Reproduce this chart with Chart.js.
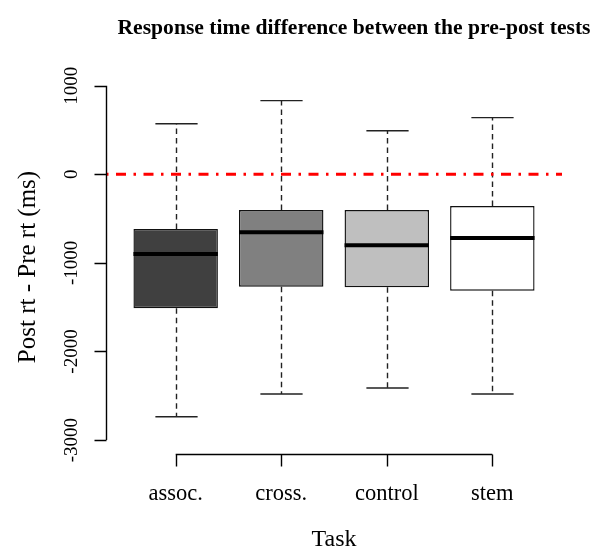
<!DOCTYPE html>
<html>
<head>
<meta charset="utf-8">
<script src="https://cdn.jsdelivr.net/npm/chart.js@4.4.1/dist/chart.umd.min.js"></script>
<style>
  html, body { margin: 0; padding: 0; background: #fff; }
  #wrap { width: 592px; height: 548px; }
</style>
</head>
<body>
<div id="wrap"><canvas id="rtChart" width="592" height="548"></canvas></div>
<script>
// Boxplot of post - pre response times (ms), per task
const categories = ['assoc.', 'cross.', 'control', 'stem'];
const whiskerLow = [-2736, -2480, -2412, -2480];
const q1 = [-1512, -1269, -1276, -1314];
const medians = [-900, -655, -801, -719];
const q3 = [-617, -403, -403, -358];
const whiskerHigh = [571, 831, 492, 639];
const yTicks = [-3000, -2000, -1000, 0, 1000];
const refLine = [0];

const boxColors = ['#404040', '#808080', '#bfbfbf', '#ffffff'];
const serif = '"Liberation Serif", "Times New Roman", serif';

// whiskers, caps, medians, red reference line and R-style axes
const boxplotExtras = {
    id: 'boxplotExtras',
    beforeDatasetsDraw(chart) {
        const ctx = chart.ctx;
        const x = chart.scales.x, y = chart.scales.y;
        const half = x.getPixelForValue(1.4) - x.getPixelForValue(1);
        ctx.save();
        ctx.strokeStyle = '#222';
        ctx.lineWidth = 1.4;
        categories.forEach((c, i) => {
            const cx = Math.round(x.getPixelForValue(i + 1)) + 0.5;
            // dashed whiskers
            ctx.setLineDash([5.5, 4]);
            ctx.beginPath();
            ctx.moveTo(cx, y.getPixelForValue(q3[i]));
            ctx.lineTo(cx, y.getPixelForValue(whiskerHigh[i]));
            ctx.moveTo(cx, y.getPixelForValue(q1[i]));
            ctx.lineTo(cx, y.getPixelForValue(whiskerLow[i]));
            ctx.stroke();
            // staples
            ctx.setLineDash([]);
            ctx.beginPath();
            ctx.moveTo(cx - half / 2, y.getPixelForValue(whiskerHigh[i]));
            ctx.lineTo(cx + half / 2, y.getPixelForValue(whiskerHigh[i]));
            ctx.moveTo(cx - half / 2, y.getPixelForValue(whiskerLow[i]));
            ctx.lineTo(cx + half / 2, y.getPixelForValue(whiskerLow[i]));
            ctx.stroke();
        });
        ctx.restore();
    },
    afterDatasetsDraw(chart) {
        const ctx = chart.ctx;
        const x = chart.scales.x, y = chart.scales.y;
        const area = chart.chartArea;
        const half = x.getPixelForValue(1.4) - x.getPixelForValue(1);
        ctx.save();

        // medians
        ctx.strokeStyle = '#000';
        ctx.lineWidth = 4;
        categories.forEach((c, i) => {
            const cx = x.getPixelForValue(i + 1);
            const my = y.getPixelForValue(medians[i]);
            ctx.beginPath();
            ctx.moveTo(cx - half, my);
            ctx.lineTo(cx + half, my);
            ctx.stroke();
        });

        // red dot-dash line at 0
        ctx.strokeStyle = '#ff0000';
        ctx.lineWidth = 3;
        ctx.setLineDash([2.5, 7.5, 10, 7.5]);
        refLine.forEach(v => {
            const ry = y.getPixelForValue(v);
            ctx.beginPath();
            ctx.moveTo(area.left, ry);
            ctx.lineTo(area.right, ry);
            ctx.stroke();
        });
        ctx.setLineDash([]);

        // y axis
        ctx.strokeStyle = '#000';
        ctx.lineWidth = 1.4;
        const ax = Math.round(area.left) + 0.5;
        ctx.beginPath();
        ctx.moveTo(ax, y.getPixelForValue(yTicks[0]));
        ctx.lineTo(ax, y.getPixelForValue(yTicks[yTicks.length - 1]));
        yTicks.forEach(t => {
            const ty = Math.round(y.getPixelForValue(t)) + 0.5;
            ctx.moveTo(ax, ty);
            ctx.lineTo(ax - 12, ty);
        });
        ctx.stroke();

        ctx.fillStyle = '#000';
        ctx.font = '19px ' + serif;
        ctx.textAlign = 'center';
        ctx.textBaseline = 'alphabetic';
        yTicks.forEach(t => {
            ctx.save();
            ctx.translate(77, y.getPixelForValue(t));
            ctx.rotate(-Math.PI / 2);
            ctx.fillText(String(t), 0, 0);
            ctx.restore();
        });

        // x axis
        const bx = Math.round(area.bottom) + 0.5;
        ctx.beginPath();
        ctx.moveTo(x.getPixelForValue(1), bx);
        ctx.lineTo(x.getPixelForValue(categories.length), bx);
        categories.forEach((c, i) => {
            const tx = Math.round(x.getPixelForValue(i + 1)) + 0.5;
            ctx.moveTo(tx, bx);
            ctx.lineTo(tx, bx + 12);
        });
        ctx.stroke();

        ctx.font = '22.5px ' + serif;
        categories.forEach((c, i) => {
            ctx.fillText(c, x.getPixelForValue(i + 1), 500);
        });

        // axis titles
        ctx.font = '24px ' + serif;
        ctx.fillText('Task', (area.left + area.right) / 2, 546);
        ctx.font = '25px ' + serif;
        ctx.save();
        ctx.translate(35, (area.top + area.bottom) / 2);
        ctx.rotate(-Math.PI / 2);
        ctx.fillText('Post rt - Pre rt (ms)', 0, 0);
        ctx.restore();

        // main title
        ctx.font = 'bold 21.6px ' + serif;
        ctx.textBaseline = 'middle';
        ctx.fillText('Response time difference between the pre-post tests', 354, 28);

        ctx.restore();
    }
};

new Chart(document.getElementById('rtChart').getContext('2d'), {
    type: 'bar',
    data: {
        datasets: [{
            label: 'IQR',
            data: categories.map((c, i) => ({ x: i + 1, y: [q1[i], q3[i]] })),
            backgroundColor: boxColors,
            borderColor: '#111',
            borderWidth: 1.4,
            borderSkipped: false,
            barPercentage: 0.8,
            categoryPercentage: 1.0
        }]
    },
    options: {
        responsive: false,
        animation: false,
        events: [],
        layout: {
            padding: { top: 80, left: 106, right: 30, bottom: 94 }
        },
        plugins: {
            legend: { display: false },
            tooltip: { enabled: false },
            title: { display: false }
        },
        scales: {
            x: {
                type: 'linear',
                display: false,
                offset: false,
                min: 0.34,
                max: 4.66,
                afterBuildTicks: (scale) => {
                    scale.ticks = categories.map((c, i) => ({ value: i + 1 }));
                }
            },
            y: {
                type: 'linear',
                display: false,
                min: -3157,
                max: 1064,
                afterBuildTicks: (scale) => {
                    scale.ticks = yTicks.map(v => ({ value: v }));
                }
            }
        }
    },
    plugins: [boxplotExtras]
});
</script>
</body>
</html>
